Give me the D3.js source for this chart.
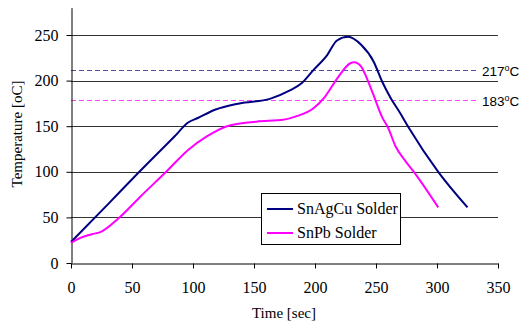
<!DOCTYPE html>
<html><head><meta charset="utf-8">
<script src="https://cdn.jsdelivr.net/npm/d3@7"></script>
<style>
html,body{margin:0;padding:0;background:#fff;}
svg{display:block;}
.serif{font-family:"Liberation Serif","Times New Roman",Times,serif;}
.sans{font-family:"Liberation Sans",Arial,Helvetica,sans-serif;}
</style></head>
<body>
<svg id="chart" width="520" height="323"></svg>
<script>
// ---- data ----
const seriesNames = ["SnAgCu Solder", "SnPb Solder"];
const snagcuTime = [0, 30, 56, 85, 96, 104, 118, 138, 163, 179, 189, 199, 210, 218, 227, 238, 248, 255, 262, 270, 277, 301, 325];
const snagcuTemp = [23, 64, 100, 139, 154, 159, 168, 175, 180, 189, 197, 212, 228, 244, 248, 239, 221, 199, 181, 164, 148, 100, 61];
const snpbTime = [0, 5, 17, 25, 39, 57, 78, 96, 111, 128, 152, 174, 185, 199, 208, 218, 229, 232, 238, 242, 248, 255, 260, 266, 274, 281, 301];
const snpbTemp = [22, 26, 31.5, 34.5, 49, 73, 100, 124, 138.5, 150, 155, 157, 161, 170, 182, 202, 219, 220, 215, 204, 184, 160, 148, 128, 112, 100, 61];
const refValues = [212, 179];
const refLabels = ["217", "183"];
const xTicks = [0, 50, 100, 150, 200, 250, 300, 350];
const yTicks = [0, 50, 100, 150, 200, 250];
const colors = ["#000080", "#ff00ff"];
const refColors = ["#50509a", "#ff40ff"];

// ---- chart ----
const svg = d3.select("#chart");
const x = d3.scaleLinear().domain([0, 350]).range([71, 498]);
const y = d3.scaleLinear().domain([0, 280]).range([263, 263 - 280 * 0.912]);

// gridlines
svg.append("g").selectAll("line").data(yTicks.filter(d => d > 0)).join("line")
  .attr("x1", x(0)).attr("x2", x(350))
  .attr("y1", d => Math.round(y(d)) + 0.5).attr("y2", d => Math.round(y(d)) + 0.5)
  .attr("stroke", "#333").attr("stroke-width", 1);

// reference dashed lines
svg.append("g").selectAll("line").data(refValues).join("line")
  .attr("x1", x(0)).attr("x2", 477)
  .attr("y1", d => Math.round(y(d)) + 0.5).attr("y2", d => Math.round(y(d)) + 0.5)
  .attr("stroke", (d, i) => refColors[i]).attr("stroke-width", 1)
  .attr("stroke-dasharray", "5,3");

const refT = svg.append("g").selectAll("text").data(refValues).join("text")
  .attr("class", "sans")
  .attr("x", 482).attr("y", d => y(d) + 6)
  .style("font-size", "13.5px")
  .attr("fill", "#000");
refT.append("tspan").text((d, i) => refLabels[i]);
refT.append("tspan").text("o").style("font-size", "9px").attr("dy", -5);
refT.append("tspan").text("C").attr("dy", 5);

// axes
const yAxis = svg.append("g").attr("transform", "translate(71.5,0)")
  .call(d3.axisLeft(y).tickValues(yTicks).tickSize(5).tickSizeOuter(0).tickPadding(8));
const xAxis = svg.append("g").attr("transform", "translate(0,263.5)")
  .call(d3.axisBottom(x).tickValues(xTicks).tickSize(5).tickSizeOuter(0).tickPadding(13));
[yAxis, xAxis].forEach(a => {
  a.attr("font-family", null).attr("font-size", null);
  a.selectAll("text").attr("class", "serif").style("font-size", "16px").attr("fill", "#000");
  a.selectAll("line,path").attr("stroke", "#000");
});

// axis titles
svg.append("text").attr("class", "serif").attr("transform", "translate(22,134) rotate(-90)")
  .attr("text-anchor", "middle").style("font-size", "15px")
  .text("Temperature [oC]");
svg.append("text").attr("class", "serif").attr("x", 284).attr("y", 318)
  .attr("text-anchor", "middle").style("font-size", "15px")
  .text("Time [sec]");

// lines
const line = d3.line().x(d => x(d[0])).y(d => y(d[1])).curve(d3.curveMonotoneX);
const series = [d3.zip(snagcuTime, snagcuTemp), d3.zip(snpbTime, snpbTemp)];
svg.append("g").selectAll("path").data(series).join("path")
  .attr("d", line).attr("fill", "none")
  .attr("stroke", (d, i) => colors[i]).attr("stroke-width", 2)
  .attr("stroke-linejoin", "round");

// legend
const lg = svg.append("g");
lg.append("rect").attr("x", 261.5).attr("y", 193.5).attr("width", 139).attr("height", 51)
  .attr("fill", "#fff").attr("stroke", "#000");
seriesNames.forEach((n, i) => {
  const cy = 209 + i * 24;
  lg.append("line").attr("x1", 267).attr("x2", 293).attr("y1", cy).attr("y2", cy)
    .attr("stroke", colors[i]).attr("stroke-width", 2);
  lg.append("text").attr("class", "serif").attr("x", 297).attr("y", cy + 5)
    .style("font-size", "16px").text(n);
});
</script>
</body></html>
